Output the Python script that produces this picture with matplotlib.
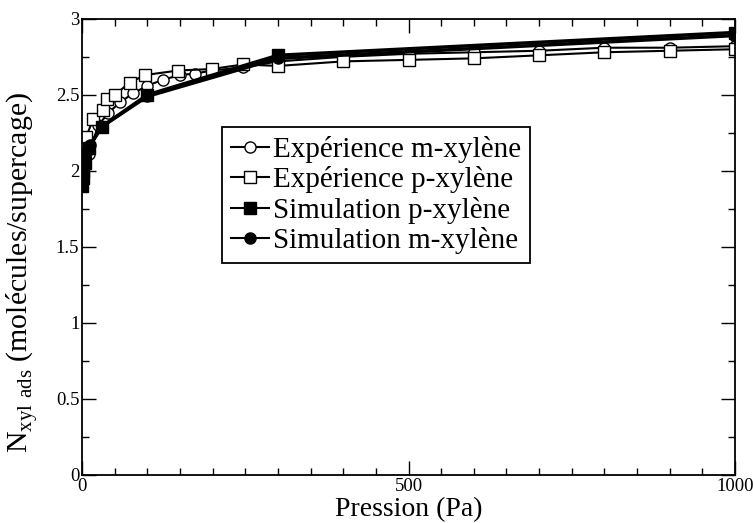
import matplotlib
matplotlib.use("Agg")
from matplotlib import pyplot as plt
from matplotlib.ticker import MultipleLocator

# Expérience m-xylène (cercles vides)
exp_m_x = [10, 25, 40, 58, 78, 100, 124, 150, 173, 199, 247, 300, 400, 500, 600, 700, 800, 900, 1000]
exp_m_y = [2.11, 2.30, 2.38, 2.45, 2.51, 2.56, 2.60, 2.63, 2.64, 2.66, 2.68, 2.72, 2.75, 2.77, 2.78, 2.79, 2.81, 2.81, 2.82]

# Expérience p-xylène (carrés vides)
exp_p_x = [6, 17, 32, 38, 50, 73, 96, 147, 199, 247, 300, 400, 500, 600, 700, 800, 900, 1000]
exp_p_y = [2.22, 2.34, 2.40, 2.47, 2.50, 2.58, 2.63, 2.66, 2.67, 2.70, 2.69, 2.72, 2.73, 2.74, 2.76, 2.78, 2.79, 2.80]

# Simulation p-xylène (carrés pleins)
sim_p_x = [0.5, 1, 2, 4, 10, 30, 100, 300, 1000]
sim_p_y = [1.90, 1.95, 2.00, 2.05, 2.15, 2.29, 2.50, 2.76, 2.91]

# Simulation m-xylène (cercles pleins)
sim_m_x = [1, 3, 6, 12, 30, 100, 300, 1000]
sim_m_y = [1.98, 2.05, 2.12, 2.17, 2.29, 2.49, 2.74, 2.89]

plt.rcParams['font.family'] = ['Liberation Serif', 'DejaVu Serif']
plt.rcParams['mathtext.fontset'] = 'custom'
plt.rcParams['mathtext.rm'] = 'Liberation Serif'

fig = plt.figure(figsize=(7.53, 5.23), dpi=100)
ax = fig.add_axes([0.109, 0.092, 0.867, 0.872])

ax.plot(exp_m_x, exp_m_y, '-o', color='black', mfc='white', mec='black', ms=8, lw=1.5, mew=1.0,
        label='Expérience m-xylène')
ax.plot(exp_p_x, exp_p_y, '-s', color='black', mfc='white', mec='black', ms=8, lw=1.5, mew=1.0,
        label='Expérience p-xylène')
ax.plot(sim_p_x, sim_p_y, '-s', color='black', ms=9, lw=2.5,
        label='Simulation p-xylène')
ax.plot(sim_m_x, sim_m_y, '-o', color='black', ms=8, lw=2.5,
        label='Simulation m-xylène')

ax.set_xlim(0, 1000)
ax.set_ylim(0, 3)
ax.xaxis.set_major_locator(MultipleLocator(500))
ax.xaxis.set_minor_locator(MultipleLocator(50))
ax.yaxis.set_major_locator(MultipleLocator(0.5))
ax.yaxis.set_minor_locator(MultipleLocator(0.25))
ax.set_yticks([0, 0.5, 1, 1.5, 2, 2.5, 3])
ax.set_yticklabels(['0', '0.5', '1', '1.5', '2', '2.5', '3'])
ax.tick_params(which='both', direction='in', top=True, right=True, labelsize=13.5, width=1.0, pad=2)
ax.tick_params(which='major', length=10)
ax.tick_params(which='minor', length=5)
for s in ax.spines.values():
    s.set_linewidth(1.3)

ax.set_xlabel('Pression (Pa)', fontsize=20, labelpad=2)
ax.set_ylabel(r'N$_{\rm xyl\ ads}$ (molécules/supercage)', fontsize=21.5)
ax.yaxis.set_label_coords(-0.064, 0.445)

leg = ax.legend(loc='upper left', bbox_to_anchor=(0.295, 0.757), bbox_transform=fig.transFigure,
                fontsize=21, frameon=True, fancybox=False, edgecolor='black', framealpha=1,
                handlelength=1.3, handletextpad=0.15, labelspacing=0.12, borderpad=0.3,
                borderaxespad=0, markerscale=1.0)
leg.get_frame().set_linewidth(1.3)
for h in leg.get_lines():
    h.set_linewidth(1.5)

fig.savefig('out.png', dpi=100)
